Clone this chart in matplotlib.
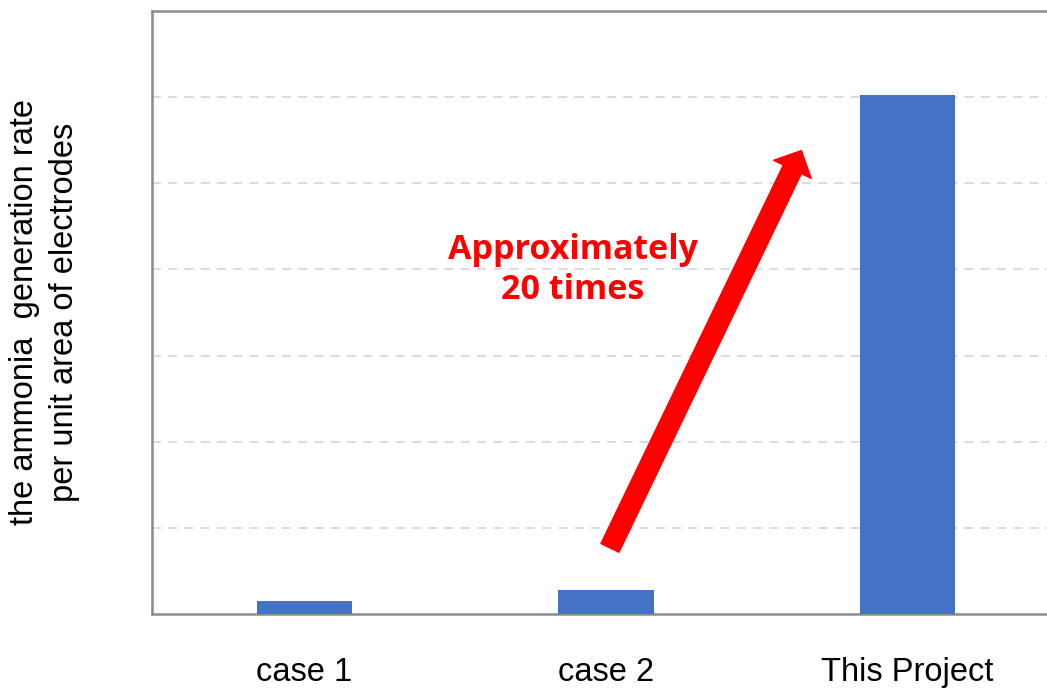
import matplotlib.pyplot as plt

categories = ["case 1", "case 2", "This Project"]
values = [0.15, 0.28, 6.02]

plt.rcParams['font.family'] = ['Liberation Sans', 'DejaVu Sans']

fig = plt.figure(figsize=(10.47, 6.89), dpi=100)
ax = fig.add_axes([0.1452, 0.1089, 0.8624, 0.8751])

x = range(len(categories))
ax.bar(x, values, width=0.316, color="#4472C4", zorder=3)

ax.set_xlim(-0.5058, 2.489)
ax.set_ylim(0, 7)
ax.set_yticks(range(1, 7))
ax.set_yticklabels([])
ax.set_xticks(list(x))
ax.set_xticklabels(categories, fontsize=23.5)
ax.tick_params(axis="both", length=0)
ax.tick_params(axis="x", pad=31)
ax.grid(axis="y", color="#d9d9d9", linestyle=(0, (5, 4)), linewidth=1.3, zorder=0)

for side in ["left", "bottom", "top"]:
    ax.spines[side].set_color("#8c8c8c")
    ax.spines[side].set_linewidth(1.8)
ax.spines["right"].set_visible(False)

ax.set_ylabel("the ammonia  generation rate\nper unit area of electrodes",
              fontsize=23.5, labelpad=48, linespacing=1.4)

ax.annotate("", xy=(1.648, 5.38), xytext=(1.013, 0.767),
            arrowprops=dict(arrowstyle="simple,head_length=1.5,head_width=3.0,tail_width=1.44",
                            mutation_scale=10, color="#ff0000", shrinkA=0, shrinkB=0),
            zorder=5)

ax.text(0.89, 3.99, "Approximately\n20 times", color="#ff0000", fontsize=24.5,
        fontweight="bold", ha="center", va="center", family=["Open Sans", "DejaVu Sans"],
        linespacing=1.22)

fig.savefig("out.png", dpi=100)
